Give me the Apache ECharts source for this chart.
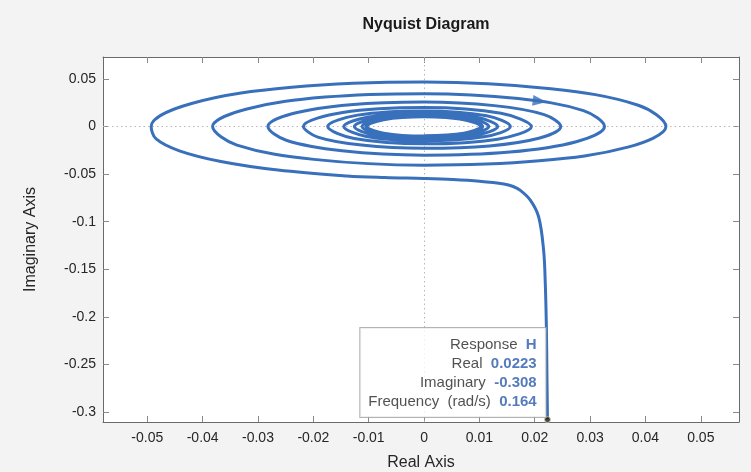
<!DOCTYPE html>
<html>
<head>
<meta charset="utf-8">
<script src="https://cdn.jsdelivr.net/npm/echarts@6.0.0/dist/echarts.min.js"></script>
<style>
html,body{margin:0;padding:0;background:#f3f3f3;}
#chart{width:751px;height:472px;}
</style>
</head>
<body>
<div id="chart"></div>
<script>
// ---- axis data ----
const xRange = [-0.058, 0.0569];
const yRange = [-0.3105, 0.0731];
const xTicks = [-0.05, -0.04, -0.03, -0.02, -0.01, 0, 0.01, 0.02, 0.03, 0.04, 0.05];
const xTickLabels = ['-0.05', '-0.04', '-0.03', '-0.02', '-0.01', '0', '0.01', '0.02', '0.03', '0.04', '0.05'];
const yTicks = [-0.3, -0.25, -0.2, -0.15, -0.1, -0.05, 0, 0.05];
const yTickLabels = ['-0.3', '-0.25', '-0.2', '-0.15', '-0.1', '-0.05', '0', '0.05'];

// ---- Nyquist curve H(jw) (low to high frequency) ----
const realPart = [
  0.0223, 0.0222, 0.0221, 0.0219, 0.0216, 0.0207, 0.0192, 0.0174, 0.0161, 0.0144, 0.0100, 0.0052, 0, -0.0071, -0.0139, -0.0264, -0.0367, -0.0442, -0.0484, -0.0493,
  -0.0420, -0.0239, 0, 0.0229, 0.0387, 0.0437, 0.0370, 0.0208, 0, -0.0199, -0.0338, -0.0382,
  -0.0320, -0.0179, 0, 0.0170, 0.0288, 0.0326, 0.0275, 0.0155, 0, -0.0148, -0.0249, -0.0282,
  -0.0237, -0.0133, 0, 0.0127, 0.0217, 0.0247, 0.0209, 0.0118, 0, -0.0113, -0.0192, -0.0218,
  -0.0147, 0, 0.0139, 0.0194, 0.0133, 0, -0.0126, -0.0174,
  -0.0120, 0, 0.0113, 0.0156, 0.0108, 0, -0.0104, -0.0145,
  -0.0100, 0, 0.0096, 0.0133, 0.0093, 0, -0.0090, -0.0126,
  -0.0087, 0, 0.0084, 0.0117, 0.0082, 0, -0.0080, -0.0112,
  -0.0079, 0, 0.0076, 0.0106, 0.0075, 0, -0.0075, -0.0105,
  -0.0074, 0, 0.0073, 0.0103, 0.0073, 0, -0.0073, -0.0103,
  -0.0073, 0, 0.0072, 0.0102, 0.0072, 0
];
const imagPart = [
  -0.308, -0.26, -0.2103, -0.1644, -0.1298, -0.0948, -0.0773, -0.0670, -0.0630, -0.0604, -0.0575, -0.0557, -0.0546, -0.0536, -0.0519, -0.0457, -0.0367, -0.0255, -0.0130, 0,
  0.0243, 0.0413, 0.0468, 0.0397, 0.0224, 0, -0.0214, -0.0360, -0.0406, -0.0345, -0.0195, 0,
  0.0185, 0.0310, 0.0346, 0.0294, 0.0167, 0, -0.0159, -0.0268, -0.0301, -0.0255, -0.0144, 0,
  0.0137, 0.0230, 0.0258, 0.0220, 0.0126, 0, -0.0121, -0.0204, -0.0229, -0.0195, -0.0111, 0,
  0.0147, 0.0199, 0.0139, 0, -0.0133, -0.0182, -0.0126, 0,
  0.0120, 0.0164, 0.0113, 0, -0.0108, -0.0150, -0.0104, 0,
  0.0100, 0.0137, 0.0096, 0, -0.0093, -0.0129, -0.0090, 0,
  0.0087, 0.0121, 0.0084, 0, -0.0082, -0.0115, -0.0080, 0,
  0.0079, 0.0110, 0.0076, 0, -0.0074, -0.0104, -0.0073, 0,
  0.0074, 0.0104, 0.0073, 0, -0.0071, -0.0100, -0.0070, 0,
  0.0072, 0.0102, 0.0072, 0, -0.0069, -0.0097
];

// direction arrow on the curve
const arrowPoint = [0.0209, 0.0266];

// data tip
const tipPoint = [0.0223, -0.308];
const tipLabels = ['Response', 'Real', 'Imaginary', 'Frequency  (rad/s)'];
const tipValues = ['H', '0.0223', '-0.308', '0.164'];

// ---- styles ----
const FONT = '"Liberation Sans", Helvetica, Arial, sans-serif';
const TXT = '#262626';
const BLUE = '#3870bc';
const AXIS = '#6a6a6a';
const TICK = '#8a8a8a';

function labelFor(ticks, labels) {
  return function (v) {
    for (let i = 0; i < ticks.length; i++) {
      if (Math.abs(ticks[i] - v) < 1e-9) return labels[i];
    }
    return '';
  };
}

const curve = realPart.map((x, i) => [x, imagPart[i]]);

const chart = echarts.init(document.getElementById('chart'), null, { renderer: 'canvas' });

const baseX = {
  type: 'value', min: xRange[0], max: xRange[1],
  splitLine: { show: false },
  axisLine: { show: true, onZero: false, lineStyle: { color: AXIS, width: 1 } },
  axisTick: { show: true, inside: true, length: 6, customValues: xTicks, lineStyle: { color: TICK, width: 1 } }
};
const baseY = {
  type: 'value', min: yRange[0], max: yRange[1],
  splitLine: { show: false },
  axisLine: { show: true, onZero: false, lineStyle: { color: AXIS, width: 1 } },
  axisTick: { show: true, inside: true, length: 6, customValues: yTicks, lineStyle: { color: TICK, width: 1 } }
};

const option = {
  backgroundColor: '#f3f3f3',
  animation: false,
  title: {
    text: 'Nyquist Diagram',
    left: 421, top: 12, textAlign: 'center',
    textStyle: { fontFamily: FONT, fontSize: 16, fontWeight: 'bold', color: '#1a1a1a' }
  },
  grid: {
    left: 103, right: 12, top: 57, bottom: 50,
    outerBoundsMode: 'none', containLabel: false,
    show: true, backgroundColor: '#ffffff', borderWidth: 0
  },
  xAxis: [
    Object.assign({}, baseX, {
      position: 'bottom',
      name: 'Real Axis', nameLocation: 'middle', nameGap: 33,
      nameTextStyle: { fontFamily: FONT, fontSize: 16, color: TXT },
      axisLabel: { customValues: xTicks, formatter: labelFor(xTicks, xTickLabels), margin: 9, fontFamily: FONT, fontSize: 14, color: TXT }
    }),
    Object.assign({}, baseX, { position: 'top', axisLabel: { show: false } })
  ],
  yAxis: [
    Object.assign({}, baseY, {
      position: 'left',
      name: 'Imaginary Axis', nameLocation: 'middle', nameGap: 64,
      nameTextStyle: { fontFamily: FONT, fontSize: 16, color: TXT },
      axisLabel: { customValues: yTicks, formatter: labelFor(yTicks, yTickLabels), margin: 7, fontFamily: FONT, fontSize: 14, color: TXT }
    }),
    Object.assign({}, baseY, { position: 'right', axisLabel: { show: false } })
  ],
  series: [
    {
      type: 'line', data: [], z: 1, silent: true,
      markLine: {
        silent: true, symbol: 'none', z: 1, animation: false,
        label: { show: false },
        lineStyle: { color: '#b8b8b8', width: 1, type: [1.5, 3] },
        emphasis: { disabled: true },
        data: [{ xAxis: 0 }, { yAxis: 0 }]
      }
    },
    {
      type: 'line', data: curve, showSymbol: false, smooth: 0.36, z: 3, silent: true,
      lineStyle: { color: BLUE, width: 3 }
    },
    {
      type: 'scatter', data: [arrowPoint], symbol: 'triangle', symbolSize: [11, 14], symbolRotate: -97, z: 4, silent: true,
      itemStyle: { color: BLUE }
    },
    {
      type: 'scatter', data: [tipPoint], symbol: 'circle', symbolSize: 6, z: 5, silent: true,
      itemStyle: { color: '#1e1e1e', borderColor: '#d9d6a8', borderWidth: 1 },
      label: {
        show: true, position: [1.7, 0.9], align: 'right', verticalAlign: 'bottom',
        backgroundColor: '#ffffff', borderColor: '#a0a0a0', borderWidth: 1,
        padding: [7, 9, 6, 8], lineHeight: 19,
        fontFamily: FONT, fontSize: 15, color: TXT,
        formatter: function () {
          return tipLabels.map((l, i) => '{l|' + l + '}  {v|' + tipValues[i] + '}').join('\n');
        },
        rich: {
          l: { fontFamily: FONT, fontSize: 15, color: TXT, lineHeight: 19 },
          v: { fontFamily: FONT, fontSize: 15, color: '#2b5aad', fontWeight: 'bold', lineHeight: 19 }
        }
      }
    }
  ]
};
chart.setOption(option);
</script>
</body>
</html>
